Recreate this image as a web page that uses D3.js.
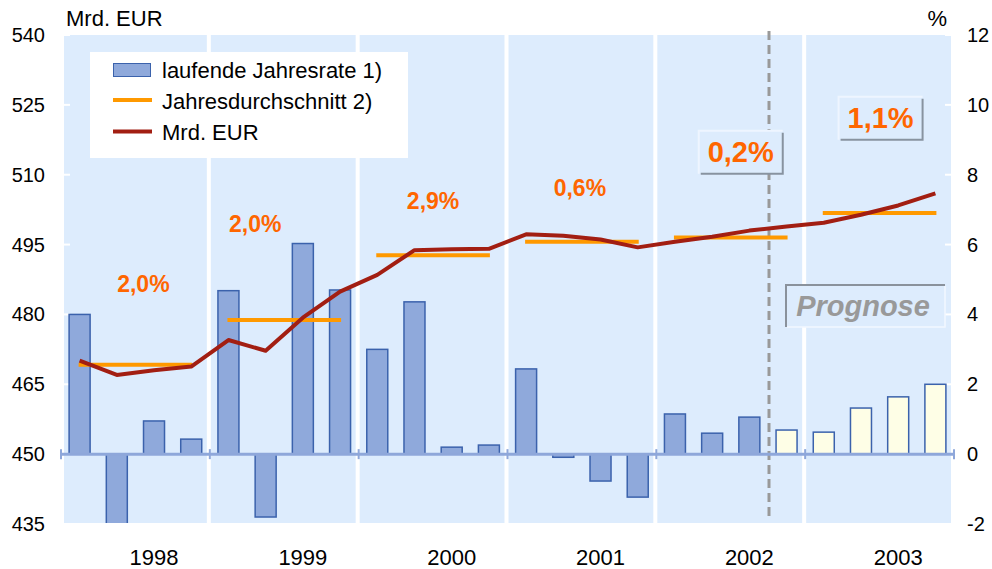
<!DOCTYPE html>
<html>
<head>
<meta charset="utf-8">
<script src="https://cdn.jsdelivr.net/npm/d3@7/dist/d3.min.js"></script>
<style>
  body { margin: 0; background: #fff; }
  text { font-family: "Liberation Sans", Arial, sans-serif; }
</style>
</head>
<body>
<div id="chart"></div>
<script>
// chart data
var years = ["1998", "1999", "2000", "2001", "2002", "2003"];
var quarters = [];
years.forEach(function(y) { for (var q = 1; q <= 4; q++) quarters.push(y + "Q" + q); });

// laufende Jahresrate (%), right axis
var rateValues = [4.0, -2.3, 0.95, 0.43,  4.68, -1.8, 6.03, 4.7,  3.0, 4.36, 0.2, 0.26,
                  2.44, -0.09, -0.77, -1.23,  1.15, 0.6, 1.06, 0.69,  0.63, 1.32, 1.64, 2.0];
var forecastFrom = 19; // index of first forecast quarter
// Mrd. EUR, left axis
var levelValues = [470.1, 467.0, 468.0, 468.8,  474.5, 472.2, 479.3, 484.9,  488.5, 493.8, 494.0, 494.1,
                   497.2, 496.9, 496.1, 494.4,  495.6, 496.7, 498.0, 498.9,  499.7, 501.4, 503.4, 506.0];
// Jahresdurchschnitt, left axis
var yearAverages = [469.2, 478.8, 492.7, 495.6, 496.5, 501.8];
var growthLabels = ["2,0%", "2,0%", "2,9%", "0,6%", "0,2%", "1,1%"];

var leftTicks = [435, 450, 465, 480, 495, 510, 525, 540];
var rightTicks = [-2, 0, 2, 4, 6, 8, 10, 12];

var svgWidth = 992, svgHeight = 569;
var plot = {left: 64, right: 951, top: 35, bottom: 523};

var svg = d3.select("#chart").append("svg")
  .attr("width", svgWidth)
  .attr("height", svgHeight);

// scales
var x = d3.scaleBand().domain(quarters).range([61, 954]);
var xYear = d3.scaleBand().domain(years).range([61, 954]);
var yL = d3.scaleLinear().domain([435, 540]).range([524, 35]);
var yR = d3.scaleLinear().domain([-2, 12]).range([524, 35]);

svg.append("defs").append("clipPath").attr("id", "clip")
  .append("rect")
  .attr("x", plot.left).attr("y", plot.top)
  .attr("width", plot.right - plot.left).attr("height", plot.bottom - plot.top);

// background
svg.append("rect")
  .attr("x", plot.left).attr("y", plot.top)
  .attr("width", plot.right - plot.left).attr("height", plot.bottom - plot.top)
  .attr("fill", "#ddecfd");

// white year separators
svg.selectAll(".sep")
  .data(years.slice(1))
  .enter().append("line")
  .attr("x1", function(d) { return xYear(d) - 1; })
  .attr("x2", function(d) { return xYear(d) - 1; })
  .attr("y1", plot.top).attr("y2", plot.bottom)
  .attr("stroke", "#fff").attr("stroke-width", 4);

// small white ticks on both sides
svg.selectAll(".ltick").data(leftTicks).enter().append("line")
  .attr("x1", plot.left).attr("x2", plot.left + 6)
  .attr("y1", function(d) { return yL(d); }).attr("y2", function(d) { return yL(d); })
  .attr("stroke", "#fff").attr("stroke-width", 2);
svg.selectAll(".rtick").data(rightTicks).enter().append("line")
  .attr("x1", plot.right - 6).attr("x2", plot.right)
  .attr("y1", function(d) { return yR(d); }).attr("y2", function(d) { return yR(d); })
  .attr("stroke", "#fff").attr("stroke-width", 2);

// legend box
svg.append("rect")
  .attr("x", 90).attr("y", 52).attr("width", 318).attr("height", 106)
  .attr("fill", "#fff");

// forecast dashed line
svg.append("line")
  .attr("x1", 769).attr("x2", 769)
  .attr("y1", 31).attr("y2", 519)
  .attr("stroke", "#999").attr("stroke-width", 3)
  .attr("stroke-dasharray", "9,5");

// bars
var barW = 21;
var bars = svg.append("g").attr("clip-path", "url(#clip)");
bars.selectAll("rect")
  .data(rateValues)
  .enter().append("rect")
  .attr("x", function(d, i) { return x(quarters[i]) + x.bandwidth() / 2 - barW / 2; })
  .attr("y", function(d) { return d >= 0 ? yR(d) : yR(0); })
  .attr("width", barW)
  .attr("height", function(d) { return Math.abs(yR(d) - yR(0)); })
  .attr("fill", function(d, i) { return i >= forecastFrom ? "#fefee6" : "#8fa9db"; })
  .attr("stroke", "#3b62ac")
  .attr("stroke-width", 1.5);

// zero axis with year ticks
svg.append("line")
  .attr("x1", 61).attr("x2", 954)
  .attr("y1", yR(0)).attr("y2", yR(0))
  .attr("stroke", "#8ea7da").attr("stroke-width", 3);
svg.selectAll(".xtick")
  .data(years.concat(["end"]))
  .enter().append("line")
  .attr("x1", function(d, i) { return i < years.length ? xYear(d) : 954; })
  .attr("x2", function(d, i) { return i < years.length ? xYear(d) : 954; })
  .attr("y1", yR(0) - 5).attr("y2", yR(0) + 5)
  .attr("stroke", "#8ea7da").attr("stroke-width", 2);

// yearly averages
svg.selectAll(".avg")
  .data(yearAverages)
  .enter().append("line")
  .attr("x1", function(d, i) { return x(years[i] + "Q1") + x.bandwidth() / 2 - 1; })
  .attr("x2", function(d, i) { return x(years[i] + "Q4") + x.bandwidth() / 2 + 1; })
  .attr("y1", function(d) { return yL(d); })
  .attr("y2", function(d) { return yL(d); })
  .attr("stroke", "#ff9900").attr("stroke-width", 4);

// level line
var line = d3.line()
  .x(function(d, i) { return x(quarters[i]) + x.bandwidth() / 2; })
  .y(function(d) { return yL(d); });
svg.append("path")
  .datum(levelValues)
  .attr("d", line)
  .attr("fill", "none")
  .attr("stroke", "#a21e12")
  .attr("stroke-width", 4)
  .attr("stroke-linejoin", "round");

// growth labels (x offset from year center, y anchor in Mrd. EUR)
var labelAnchor = [[8, 486.6], [-29, 499.5], [0, 504.4], [-2, 507.2], [10, 514.8], [1, 522.1]];
growthLabels.forEach(function(t, i) {
  var cx = xYear(years[i]) + xYear.bandwidth() / 2 + labelAnchor[i][0];
  var cy = yL(labelAnchor[i][1]);
  if (i >= 4) {
    var bw = 84, bh = 43;
    var g = svg.append("g");
    g.append("rect")
      .attr("x", cx - bw / 2).attr("y", cy - bh / 2)
      .attr("width", bw).attr("height", bh)
      .attr("fill", "#ddecfd");
    g.append("path")
      .attr("d", "M" + (cx - bw / 2) + "," + (cy + bh / 2) + "V" + (cy - bh / 2) + "H" + (cx + bw / 2))
      .attr("fill", "none").attr("stroke", "#eef5ff").attr("stroke-width", 2);
    g.append("path")
      .attr("d", "M" + (cx - bw / 2 + 2) + "," + (cy + bh / 2) + "H" + (cx + bw / 2) + "V" + (cy - bh / 2 + 2))
      .attr("fill", "none").attr("stroke", "#8893a0").attr("stroke-width", 2);
    g.append("text")
      .attr("x", cx).attr("y", cy + 10)
      .attr("text-anchor", "middle")
      .attr("font-size", "29px").attr("font-weight", "bold")
      .attr("fill", "#ff6600")
      .text(t);
  } else {
    svg.append("text")
      .attr("x", cx).attr("y", cy + 8)
      .attr("text-anchor", "middle")
      .attr("font-size", "23px").attr("font-weight", "bold")
      .attr("fill", "#ff6600")
      .text(t);
  }
});

// Prognose box
var pg = svg.append("g");
pg.append("rect")
  .attr("x", 785).attr("y", 284).attr("width", 160).attr("height", 43)
  .attr("fill", "#ddecfd");
pg.append("path")
  .attr("d", "M786,327V285H945")
  .attr("fill", "none").attr("stroke", "#8a929c").attr("stroke-width", 2);
pg.append("path")
  .attr("d", "M787,327H945V286")
  .attr("fill", "none").attr("stroke", "#f2f7ff").attr("stroke-width", 1.5);
pg.append("text")
  .attr("x", 863).attr("y", 316)
  .attr("text-anchor", "middle")
  .attr("font-size", "29px").attr("font-weight", "bold").attr("font-style", "italic")
  .attr("fill", "#999")
  .text("Prognose");

// legend items
svg.append("rect")
  .attr("x", 113.5).attr("y", 63.5).attr("width", 37).attr("height", 13)
  .attr("fill", "#8fa9db").attr("stroke", "#3b62ac").attr("stroke-width", 1);
svg.append("line")
  .attr("x1", 113).attr("x2", 152).attr("y1", 100).attr("y2", 100)
  .attr("stroke", "#ff9900").attr("stroke-width", 4);
svg.append("line")
  .attr("x1", 113).attr("x2", 152).attr("y1", 131.5).attr("y2", 131.5)
  .attr("stroke", "#a21e12").attr("stroke-width", 4);
var legendTexts = ["laufende Jahresrate 1)", "Jahresdurchschnitt 2)", "Mrd. EUR"];
svg.selectAll(".legtext")
  .data(legendTexts)
  .enter().append("text")
  .attr("x", 162)
  .attr("y", function(d, i) { return 78 + i * 31.2; })
  .attr("font-size", "22px")
  .attr("fill", "#000")
  .text(function(d) { return d; });

// axis tick labels
svg.selectAll(".llab")
  .data(leftTicks)
  .enter().append("text")
  .attr("x", 45)
  .attr("y", function(d) { return yL(d) + 7; })
  .attr("text-anchor", "end")
  .attr("font-size", "20px")
  .text(function(d) { return d; });
svg.selectAll(".rlab")
  .data(rightTicks)
  .enter().append("text")
  .attr("x", 967)
  .attr("y", function(d) { return yR(d) + 7; })
  .attr("text-anchor", "start")
  .attr("font-size", "20px")
  .text(function(d) { return d; });

// year labels (centered under third quarter)
svg.selectAll(".ylab")
  .data(years)
  .enter().append("text")
  .attr("x", function(d) { return x(d + "Q3") + x.bandwidth() / 2; })
  .attr("y", 565)
  .attr("text-anchor", "middle")
  .attr("font-size", "22px")
  .text(function(d) { return d; });

// axis titles
svg.append("text")
  .attr("x", 66).attr("y", 26)
  .attr("font-size", "22px")
  .text("Mrd. EUR");
svg.append("text")
  .attr("x", 947).attr("y", 26)
  .attr("text-anchor", "end")
  .attr("font-size", "22px")
  .text("%");
</script>
</body>
</html>
